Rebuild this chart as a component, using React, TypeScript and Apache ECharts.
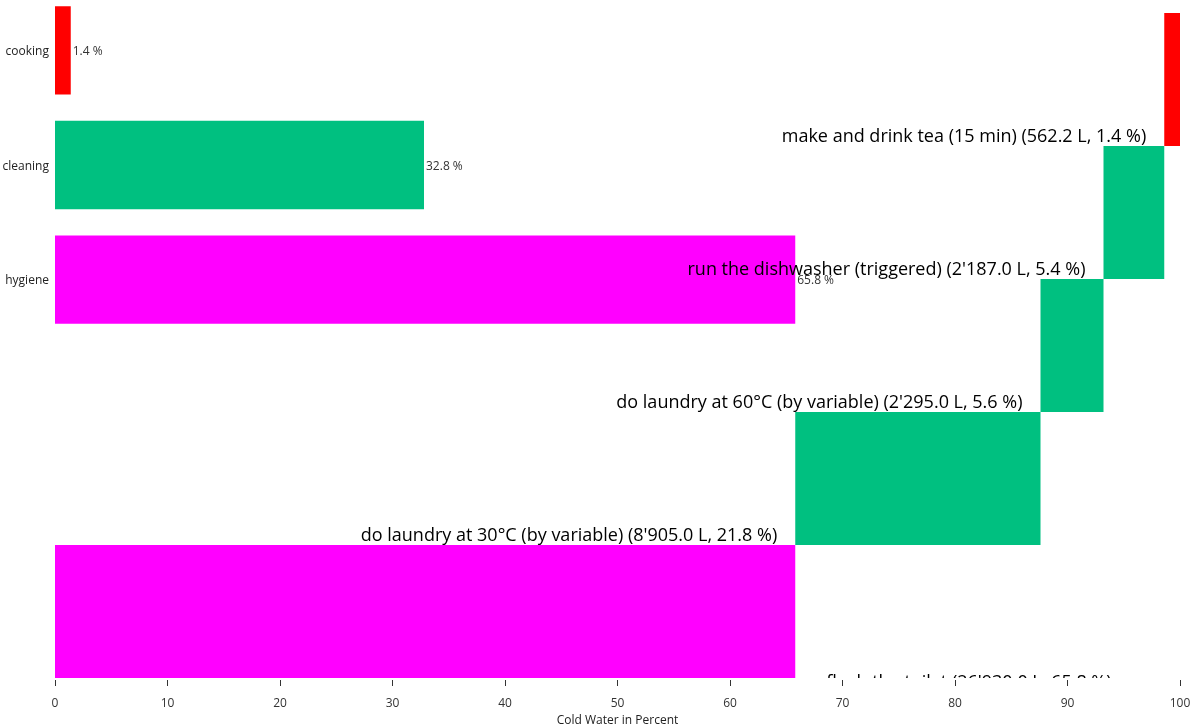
import React, { useEffect, useRef } from "react";
import * as echarts from "echarts";

const RED = "#ff0000";
const GREEN = "#00c080";
const MAGENTA = "#ff00ff";

// top: categories
const categories = ["cooking", "cleaning", "hygiene"];
const categoryPercents = [1.4, 32.8, 65.8];
const categoryColors = [RED, GREEN, MAGENTA];

// waterfall tasks (top to bottom)
const tasks = [
  "make and drink tea (15 min)",
  "run the dishwasher (triggered)",
  "do laundry at 60°C (by variable)",
  "do laundry at 30°C (by variable)",
  "flush the toilet",
];
const taskLiters = [562.2, 2187.0, 2295.0, 8905.0, 26930.0];
const taskPercents = [1.4, 5.4, 5.6, 21.8, 65.8];
const taskColors = [RED, GREEN, GREEN, GREEN, MAGENTA];

const FONT = "'Open Sans', 'Noto Sans', sans-serif";

function fmtLiters(v: number): string {
  const [i, d] = v.toFixed(1).split(".");
  return i.replace(/\B(?=(\d{3})+(?!\d))/g, "'") + "." + d;
}

export default function App() {
  const ref = useRef<HTMLDivElement>(null);
  useEffect(() => {
    if (!ref.current) return;
    const chart = echarts.init(ref.current, undefined, { renderer: "svg" });

    const waterfallData = tasks.map((t, i) => {
      let start = 0;
      for (let j = i + 1; j < tasks.length; j++) start += taskPercents[j];
      const end = start + taskPercents[i];
      return {
        value: [start, end, i],
        name: t,
        label: `${t} (${fmtLiters(taskLiters[i])} L, ${taskPercents[i].toFixed(1)} %)`,
        color: taskColors[i],
      };
    });

    const option: any = {
      animation: false,
      grid: [
        { left: 55, right: 12, top: 13, bottom: 48, outerBoundsMode: "none", containLabel: false },
        { left: 55, right: 12, top: -7, height: 344, outerBoundsMode: "none", containLabel: false },
      ],
      xAxis: [
        {
          type: "value",
          gridIndex: 0,
          min: 0,
          max: 100,
          interval: 10,
          offset: 2,
          position: "bottom",
          axisLine: { show: false, onZero: false },
          axisTick: { show: true, length: 6, lineStyle: { color: "#333" } },
          splitLine: { show: false },
          axisLabel: { color: "#333", fontSize: 12, fontFamily: FONT, margin: 16 },
          name: "Cold Water in Percent",
          nameLocation: "middle",
          nameGap: 33,
          nameTextStyle: { color: "#222", fontSize: 12, fontFamily: FONT },
        },
        {
          type: "value",
          gridIndex: 1,
          min: 0,
          max: 100,
          show: false,
          axisLine: { onZero: false },
        },
      ],
      yAxis: [
        {
          type: "value",
          gridIndex: 0,
          min: 0,
          max: tasks.length,
          inverse: true,
          show: false,
        },
        {
          type: "category",
          gridIndex: 1,
          data: categories,
          inverse: true,
          axisLine: { show: false },
          axisTick: { show: false },
          axisLabel: { color: "#222", fontSize: 12, fontFamily: FONT, margin: 6 },
        },
      ],
      series: [
        {
          type: "bar",
          xAxisIndex: 1,
          yAxisIndex: 1,
          barCategoryGap: "23%",
          data: categoryPercents.map((v, i) => ({
            value: v,
            itemStyle: { color: categoryColors[i] },
          })),
          label: {
            show: true,
            position: "right",
            distance: 2,
            color: "#333",
            fontSize: 12,
            fontFamily: FONT,
            formatter: (p: any) => `${p.value} %`,
          },
          z: 1,
        },
        {
          type: "custom",
          xAxisIndex: 0,
          yAxisIndex: 0,
          clip: true,
          z: 3,
          data: waterfallData,
          renderItem: (params: any, api: any) => {
            const start = api.value(0);
            const end = api.value(1);
            const idx = api.value(2);
            const p0 = api.coord([start, idx]);
            const p1 = api.coord([end, idx + 1]);
            const d = waterfallData[params.dataIndex];
            const atLeft = start === 0;
            return {
              type: "group",
              children: [
                {
                  type: "rect",
                  shape: { x: p0[0], y: p0[1], width: p1[0] - p0[0], height: p1[1] - p0[1] },
                  style: { fill: d.color },
                },
                {
                  type: "text",
                  x: atLeft ? p1[0] + 31 : p0[0] - 18,
                  y: atLeft ? p1[1] + 3 : p1[1] - 11,
                  style: {
                    text: d.label,
                    fill: "#000",
                    fontSize: 18,
                    fontFamily: FONT,
                    align: atLeft ? "left" : "right",
                    verticalAlign: "middle",
                  },
                },
              ],
            };
          },
        },
      ],
    };
    chart.setOption(option);
    return () => chart.dispose();
  }, []);
  return (
    <div
      ref={ref}
      style={{ position: "fixed", left: 0, top: 0, width: 1192, height: 726 }}
    />
  );
}
